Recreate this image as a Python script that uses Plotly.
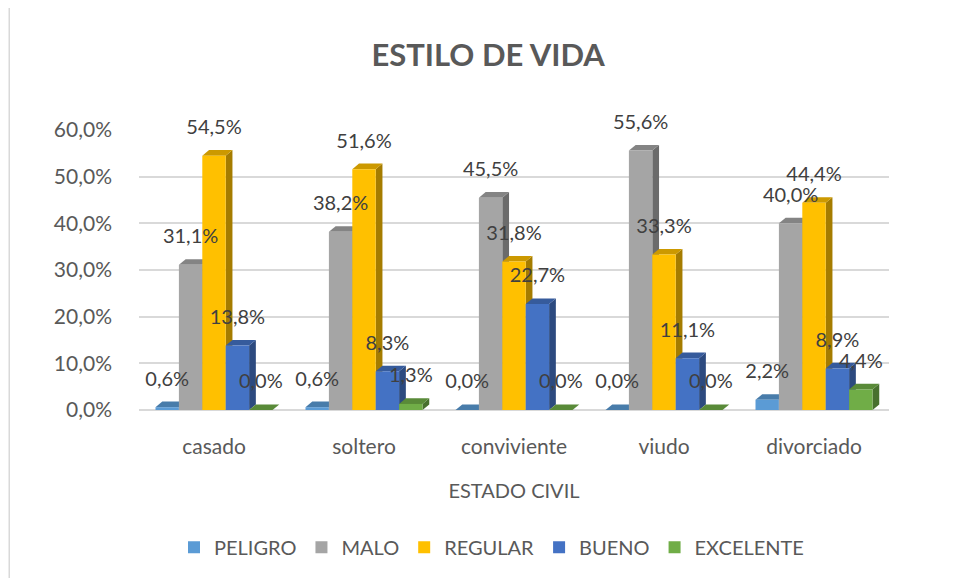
import plotly.graph_objects as go

# Estado civil categories
categorias = ["casado", "soltero", "conviviente", "viudo", "divorciado"]

# Share of each lifestyle level per category
peligro = [0.006, 0.006, 0.000, 0.000, 0.022]
malo = [0.311, 0.382, 0.455, 0.556, 0.400]
regular = [0.545, 0.516, 0.318, 0.333, 0.444]
bueno = [0.138, 0.083, 0.227, 0.111, 0.089]
excelente = [0.000, 0.013, 0.000, 0.000, 0.044]

series = [
    ("PELIGRO", peligro, "#5B9BD5"),
    ("MALO", malo, "#A5A5A5"),
    ("REGULAR", regular, "#FFC000"),
    ("BUENO", bueno, "#4472C4"),
    ("EXCELENTE", excelente, "#70AD47"),
]

tick_vals = [0, 0.1, 0.2, 0.3, 0.4, 0.5, 0.6]

FONT = "Lato, Noto Sans, sans-serif"
TEXT_COLOR = "#595959"
BARGAP = 0.22
DX, DY = 0.045, 0.012  # fake 3d depth, in axis units


def darken(hex_color, factor):
    h = hex_color.lstrip("#")
    r, g, b = (int(h[i:i + 2], 16) for i in (0, 2, 4))
    return "#{:02X}{:02X}{:02X}".format(int(r * factor), int(g * factor), int(b * factor))


x_idx = list(range(len(categorias)))
bar_w = (1 - BARGAP) / len(series)

fig = go.Figure()

label_x, label_y, label_txt = [], [], []

for k, (name, values, color) in enumerate(series):
    fig.add_trace(go.Bar(
        x=x_idx,
        y=values,
        name=name,
        marker=dict(color=color, line=dict(width=0)),
        hoverinfo="skip",
    ))
    for c, v in zip(x_idx, values):
        left = c - (1 - BARGAP) / 2 + k * bar_w
        right = left + bar_w
        # side and top faces to mimic the 3d look of the original
        fig.add_shape(
            type="path", xref="x", yref="y", layer="between",
            path=f"M {right},0 L {right + DX},{DY} L {right + DX},{v + DY} L {right},{v} Z",
            fillcolor=darken(color, 0.65), line=dict(width=0),
        )
        fig.add_shape(
            type="path", xref="x", yref="y", layer="between",
            path=f"M {left},{v} L {right},{v} L {right + DX},{v + DY} L {left + DX},{v + DY} Z",
            fillcolor=darken(color, 0.8), line=dict(width=0),
        )
        label_x.append((left + right) / 2)
        label_y.append(v + DY)
        label_txt.append(f"{v * 100:.1f}%".replace(".", ","))

# data labels drawn last so they sit on top of every bar
fig.add_trace(go.Scatter(
    x=label_x,
    y=label_y,
    mode="markers+text",
    text=label_txt,
    textposition="top center",
    textfont=dict(size=20, color="#404040", family=FONT),
    marker=dict(size=16, opacity=0),
    showlegend=False,
    cliponaxis=False,
    hoverinfo="skip",
))

fig.update_layout(
    width=947,
    height=570,
    separators=",.",
    barmode="group",
    bargap=BARGAP,
    bargroupgap=0,
    paper_bgcolor="white",
    plot_bgcolor="white",
    font=dict(family=FONT, color=TEXT_COLOR),
    title=dict(
        text="<b>ESTILO DE VIDA</b>",
        x=0.507, xanchor="center", y=0.918, yanchor="middle",
        font=dict(size=31, color=TEXT_COLOR),
    ),
    margin=dict(l=131, r=66, t=122, b=160),
    xaxis=dict(
        range=[-0.5, 4.5],
        tickvals=x_idx,
        ticktext=categorias,
        showgrid=False,
        showline=False,
        zeroline=False,
        ticks="",
        tickfont=dict(size=21, color=TEXT_COLOR),
        ticklabelstandoff=22,
        title=dict(text="ESTADO CIVIL", font=dict(size=20, color=TEXT_COLOR), standoff=26),
    ),
    yaxis=dict(
        range=[0, 0.6],
        tickvals=tick_vals,
        tickformat=".1%",
        showgrid=True,
        gridcolor="#D9D9D9",
        gridwidth=1.5,
        zeroline=True,
        zerolinecolor="#D9D9D9",
        zerolinewidth=1.5,
        showline=False,
        ticks="",
        tickfont=dict(size=21, color=TEXT_COLOR),
        ticklabelstandoff=26,
    ),
    legend=dict(
        orientation="h",
        x=0.47, xanchor="center",
        y=-0.49, yanchor="middle",
        font=dict(size=20, color=TEXT_COLOR),
        itemwidth=30,
        traceorder="normal",
    ),
    showlegend=True,
)

# left edge of the chart-area border
fig.add_shape(
    type="line", xref="paper", yref="paper",
    x0=-0.173, x1=-0.173, y0=-0.6, y1=1.5,
    line=dict(color="#D9D9D9", width=1.5),
)

fig.write_html("out.html")
